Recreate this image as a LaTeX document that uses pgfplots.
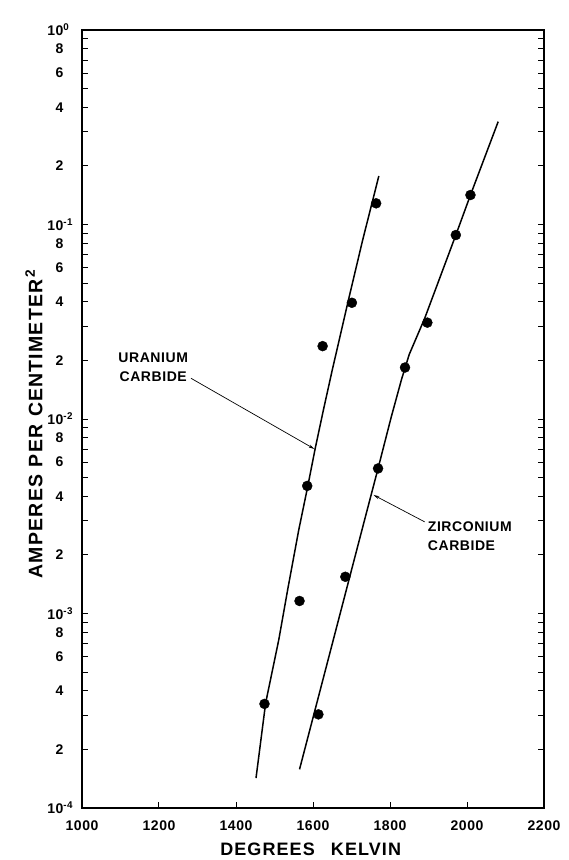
\documentclass[border=0pt]{standalone}
\usepackage{fontspec}
\setmainfont[LetterSpace=4]{Liberation Sans}
\usepackage{pgfplots}
\pgfplotsset{compat=1.18}
\usetikzlibrary{arrows.meta}
\newcommand{\ex}[1]{10\rlap{\textsuperscript{#1}}}
\begin{document}
\begin{tikzpicture}
\useasboundingbox (-82pt,-52pt) rectangle (486pt,808pt);
\begin{axis}[
  at={(0,0)}, anchor=south west,
  scale only axis, width=462pt, height=778pt,
  clip mode=individual,
  xmin=1000, xmax=2200, ymode=log, ymin=1e-4, ymax=1,
  axis line style={line width=1.4pt},
  tick align=inside,
  xtick pos=left, ytick pos=both,
  major tick length=6pt, minor tick length=6pt,
  every tick/.style={line width=1pt, black},
  xtick={1000,1200,1400,1600,1800,2000,2200},
  xticklabels={1000,1200,1400,1600,1800,2000,2200},
  ytick={1e-4,2e-4,4e-4,6e-4,8e-4,1e-3,2e-3,4e-3,6e-3,8e-3,1e-2,2e-2,4e-2,6e-2,8e-2,1e-1,2e-1,4e-1,6e-1,8e-1,1},
  yticklabels={\ex{-4},2,4,6,8,\ex{-3},2,4,6,8,\ex{-2},2,4,6,8,\ex{-1},2,4,6,8,\ex{0}},
  minor ytick={3e-4,5e-4,7e-4,9e-4,3e-3,5e-3,7e-3,9e-3,3e-2,5e-2,7e-2,9e-2,3e-1,5e-1,7e-1,9e-1},
  xticklabel style={font=\bfseries\fontsize{14}{14}\selectfont, yshift=-9pt},
  yticklabel style={font=\bfseries\fontsize{14}{14}\selectfont, anchor=east, xshift=-15pt},
]
% Uranium carbide fitted curve
\addplot[black, line width=1.5pt] coordinates {
(1452,1.426e-4) (1477,3.467e-4) (1511,7.31e-4) (1535,1.352e-3) (1563,2.69e-3) (1586,4.47e-3) (1606,7.10e-3) (1627,1.112e-2) (1650,1.786e-2) (1671,2.70e-2) (1692,4.09e-2) (1729,8.32e-2) (1771,0.1776)};
% Zirconium carbide fitted curve
\addplot[black, line width=1.5pt] coordinates {
(1565,1.58e-4) (1734,3.03e-3) (1769,5.57e-3) (1803,1.02e-2) (1830,1.60e-2) (1850,2.15e-2) (1890,3.29e-2) (1971,8.83e-2) (2009,0.1418) (2081,0.338)};
% data points
\addplot[only marks, mark=*, mark size=5pt, black] coordinates {
(1474,3.43e-4) (1565,1.16e-3) (1585,4.53e-3) (1625,2.37e-2) (1701,3.96e-2) (1764,0.1285)};
\addplot[only marks, mark=*, mark size=5pt, black] coordinates {
(1614,3.03e-4) (1684,1.545e-3) (1769,5.57e-3) (1839,1.84e-2) (1897,3.13e-2) (1971,8.83e-2) (2009,0.1418)};
% axis titles
\node[anchor=base, inner sep=0pt, font=\bfseries\fontsize{18}{18}\selectfont\addfontfeatures{LetterSpace=6}] at ([yshift=-47pt]rel axis cs:0.495,0) {DEGREES\hspace{0.9em}KELVIN};
\node[rotate=90, anchor=center, inner sep=0pt, font=\bfseries\fontsize{19.5}{19.5}\selectfont\addfontfeatures{LetterSpace=6}] at ([xshift=-48pt]rel axis cs:0,0.494) {AMPERES\hspace{0.4em}PER\hspace{0.4em}CENTIMETER\textsuperscript{\,2}};
% annotations
\node[align=center, font=\bfseries\fontsize{14}{19}\selectfont] at (axis cs:1185,1.84e-2) {URANIUM\\CARBIDE};
\draw[-{Stealth[length=6pt,width=3pt]}, line width=0.7pt] (axis cs:1283,1.62e-2) -- (axis cs:1604,7.01e-3);
\node[align=left, anchor=west, inner sep=0pt, font=\bfseries\fontsize{14}{19}\selectfont] at (axis cs:1898,2.50e-3) {ZIRCONIUM\\CARBIDE};
\draw[-{Stealth[length=6pt,width=3pt]}, line width=0.7pt] (axis cs:1890,2.96e-3) -- (axis cs:1757,4.07e-3);
\end{axis}
\end{tikzpicture}
\end{document}
